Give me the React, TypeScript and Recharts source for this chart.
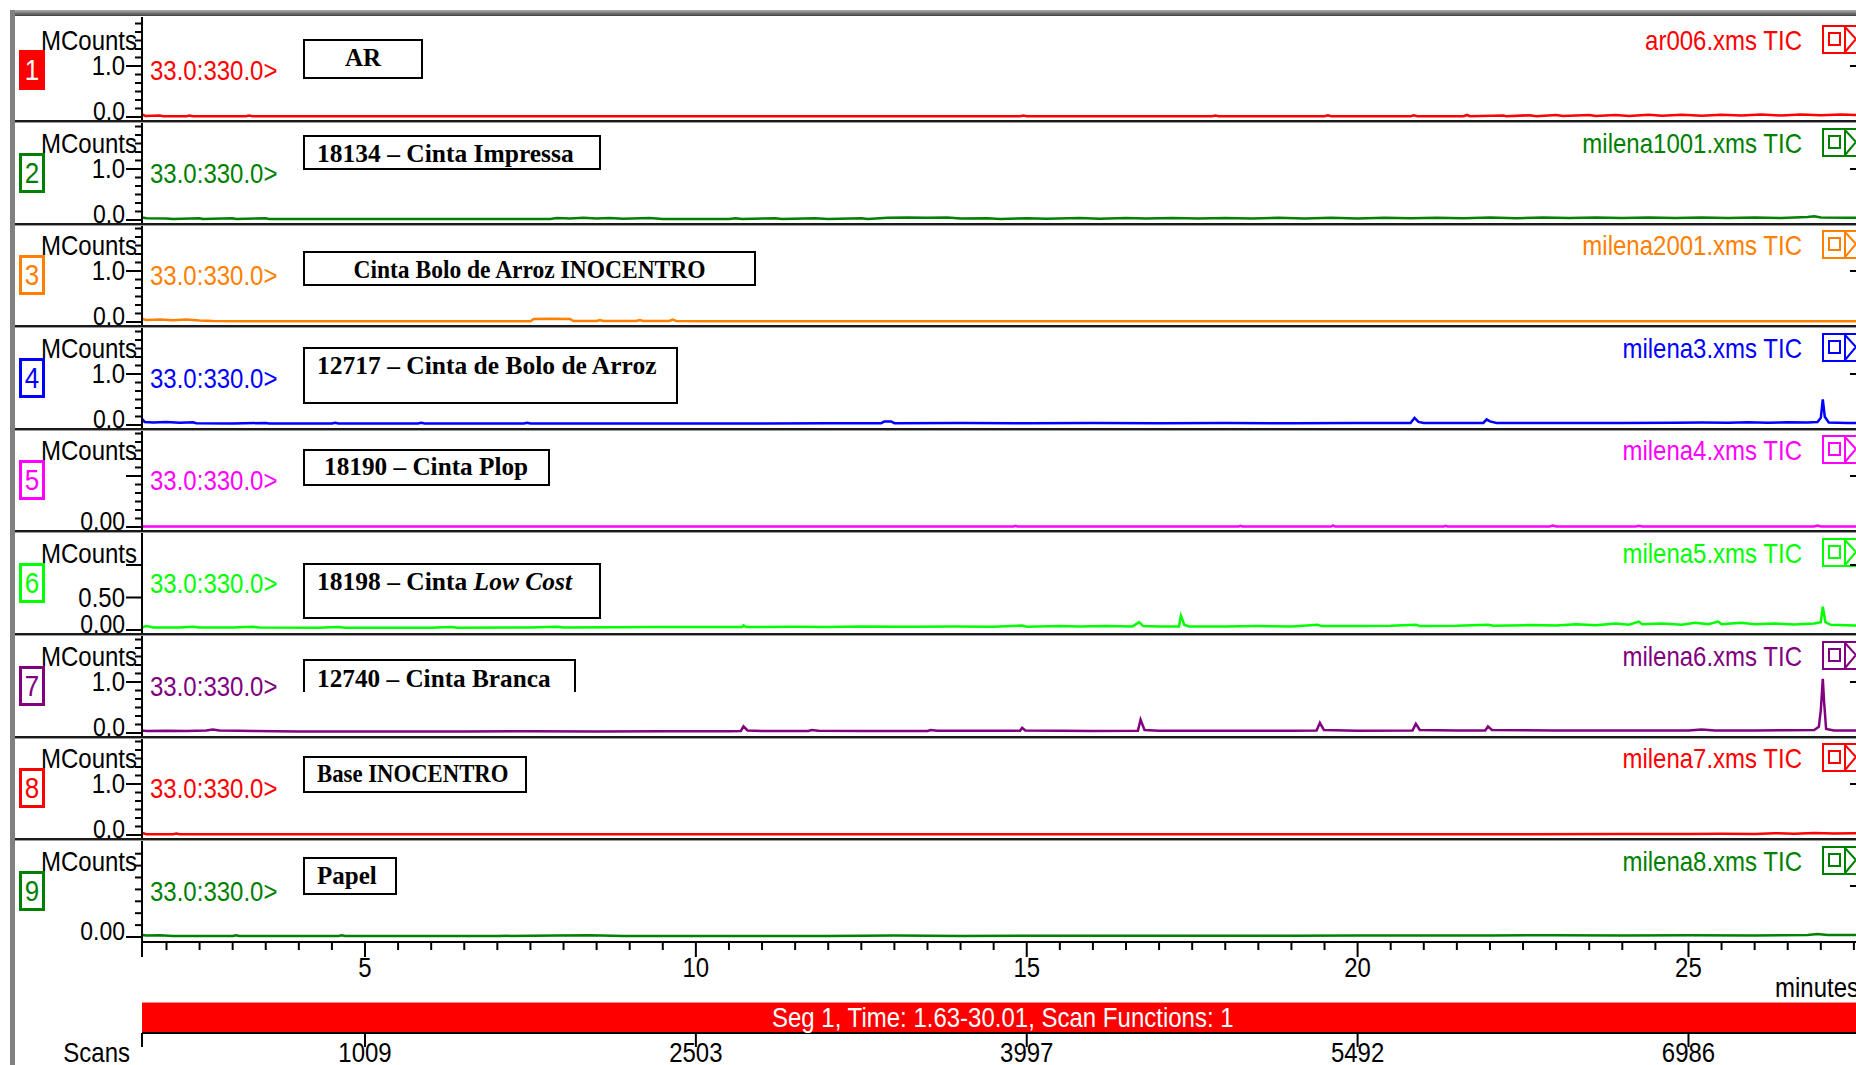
import React from 'react';
import { LineChart, Line, XAxis, YAxis, ReferenceArea } from 'recharts';

// ---------------- data ----------------
const TIME_START = 1.63;
const TIME_END = 30.01;

const fileNames = [
  'ar006.xms TIC', 'milena1001.xms TIC', 'milena2001.xms TIC', 'milena3.xms TIC', 'milena4.xms TIC',
  'milena5.xms TIC', 'milena6.xms TIC', 'milena7.xms TIC', 'milena8.xms TIC',
];
const sampleLabels = [
  'AR', '18134 – Cinta Impressa', 'Cinta Bolo de Arroz INOCENTRO', '12717 – Cinta de Bolo de Arroz',
  '18190 – Cinta Plop', '18198 – Cinta Low Cost', '12740 – Cinta Branca', 'Base INOCENTRO', 'Papel',
];
const italicParts = ['', '', '', '', '', 'Low Cost', '', '', ''];
const traceNumbers = ['1', '2', '3', '4', '5', '6', '7', '8', '9'];
const massRange = '33.0:330.0>';
const unitLabel = 'MCounts';
const segmentText = 'Seg 1, Time: 1.63-30.01, Scan Functions: 1';

const xTicks = [1.63, 2, 2.5, 3, 3.5, 4, 4.5, 5, 5.5, 6, 6.5, 7, 7.5, 8, 8.5, 9, 9.5, 10, 10.5, 11, 11.5, 12, 12.5, 13, 13.5, 14, 14.5, 15, 15.5, 16, 16.5, 17, 17.5, 18, 18.5, 19, 19.5, 20, 20.5, 21, 21.5, 22, 22.5, 23, 23.5, 24, 24.5, 25, 25.5, 26, 26.5, 27, 27.5, 28, 28.5, 29, 29.5, 30];
const xMajorTicks = [5, 10, 15, 20, 25, 30];
const xMajorLabels = ['5', '10', '15', '20', '25', '30'];
const scanTickTimes = [1.63, 5, 10, 15, 20, 25];
const scanLabels = ['', '1009', '2503', '3997', '5492', '6986'];

const yTicksUnit = [0, 0.167, 0.333, 0.5, 0.667, 0.833, 1, 1.167, 1.333, 1.5, 1.667, 1.833];
const yLabelsUnit = ['0.0', '', '', '', '', '', '1.0', '', '', '', '', ''];
const yLabelsZero = ['0.00', '', '', '', '', '', '', '', '', '', '', ''];
const yTicksHalf = [0, 0.5, 1];
const yLabelsHalf = ['0.00', '0.50', ''];
const yTicksPaper = [0, 0.233, 0.467, 0.7, 0.933, 1.167, 1.4, 1.633];
const yLabelsPaper = ['0.00', '', '', '', '', '', '', ''];

const s1: [number, number][] = [[1.63,0.05],[1.68,0.02],[1.9,0.03],[1.95,0.015],[2.3,0.015],[2.35,0.03],[2.4,0.015],[3.2,0.015],[3.25,0.03],[3.3,0.015],[8,0.015],[13.5,0.015],[14.9,0.015],[14.95,0.03],[15.0,0.015],[17.8,0.015],[17.85,0.03],[17.9,0.015],[19.5,0.015],[19.55,0.035],[19.6,0.015],[20.8,0.015],[20.85,0.035],[20.9,0.015],[21.6,0.015],[21.65,0.04],[21.7,0.015],[22.2,0.03],[22.25,0.015],[22.6,0.035],[22.7,0.015],[23.0,0.04],[23.1,0.02],[23.5,0.04],[23.6,0.02],[23.9,0.04],[24.1,0.02],[24.4,0.045],[24.6,0.025],[24.9,0.045],[25.2,0.025],[25.5,0.045],[25.8,0.03],[26.1,0.05],[26.4,0.03],[26.7,0.05],[27.0,0.035],[27.3,0.05],[27.6,0.035],[28.2,0.04],[29.0,0.035],[30.01,0.03]];
const s2: [number, number][] = [[1.63,0.05],[1.7,0.035],[2.0,0.03],[2.1,0.02],[2.5,0.035],[2.55,0.02],[3.0,0.035],[3.05,0.02],[3.5,0.035],[3.55,0.02],[5.0,0.02],[7.8,0.02],[7.9,0.04],[8.1,0.03],[8.3,0.045],[8.5,0.03],[8.7,0.04],[8.9,0.025],[9.3,0.04],[9.5,0.02],[10.5,0.02],[10.6,0.035],[10.7,0.02],[11.2,0.035],[11.3,0.02],[11.8,0.035],[12.0,0.02],[12.5,0.035],[12.6,0.02],[12.9,0.045],[13.2,0.05],[13.5,0.045],[13.8,0.05],[14.0,0.03],[14.4,0.035],[14.6,0.02],[15.0,0.035],[15.3,0.025],[15.8,0.04],[16.1,0.025],[16.5,0.04],[16.8,0.03],[17.2,0.04],[17.6,0.03],[18.0,0.04],[18.4,0.03],[18.8,0.045],[19.2,0.03],[19.6,0.045],[20.0,0.03],[20.4,0.045],[20.8,0.035],[21.2,0.045],[21.6,0.035],[22.0,0.05],[22.4,0.035],[22.8,0.05],[23.2,0.04],[23.6,0.05],[24.0,0.04],[24.4,0.05],[24.8,0.04],[25.2,0.05],[25.6,0.04],[26.0,0.05],[26.4,0.04],[26.8,0.06],[26.9,0.075],[27.0,0.05],[27.4,0.045],[28.0,0.045],[29.0,0.04],[30.01,0.04]];
const s3: [number, number][] = [[1.63,0.06],[1.7,0.04],[1.9,0.05],[2.1,0.035],[2.3,0.05],[2.5,0.03],[2.7,0.02],[3.2,0.015],[5.0,0.015],[7.5,0.015],[7.55,0.06],[7.8,0.065],[8.1,0.06],[8.15,0.02],[8.5,0.02],[8.55,0.04],[8.6,0.02],[9.1,0.02],[9.15,0.04],[9.2,0.02],[9.6,0.02],[9.65,0.045],[9.7,0.02],[10.2,0.015],[15.0,0.015],[20,0.015],[25,0.015],[30.01,0.015]];
const s4: [number, number][] = [[1.63,0.12],[1.67,0.06],[1.8,0.05],[2.0,0.06],[2.2,0.045],[2.4,0.055],[2.45,0.035],[3.0,0.03],[3.5,0.04],[3.55,0.03],[4.5,0.03],[4.55,0.045],[4.6,0.03],[5.8,0.03],[5.85,0.045],[5.9,0.03],[7.4,0.03],[7.45,0.045],[7.5,0.03],[9.0,0.03],[11.0,0.03],[12.0,0.035],[12.8,0.035],[12.85,0.07],[12.95,0.07],[13.0,0.035],[14.0,0.04],[15.0,0.035],[16.0,0.04],[17.0,0.035],[18.0,0.04],[19.0,0.035],[20.0,0.04],[20.8,0.04],[20.86,0.14],[20.92,0.06],[21.0,0.04],[21.9,0.04],[21.95,0.11],[22.0,0.07],[22.1,0.04],[23.0,0.04],[24.0,0.04],[24.8,0.045],[25.2,0.05],[25.6,0.045],[25.9,0.055],[26.2,0.045],[26.5,0.055],[26.8,0.05],[26.95,0.06],[27.0,0.14],[27.03,0.5],[27.06,0.16],[27.12,0.05],[27.4,0.04],[28.0,0.045],[29.0,0.04],[30.01,0.04]];
const s5: [number, number][] = [[1.63,0.01],[8,0.01],[14.8,0.01],[14.83,0.025],[14.86,0.01],[18.2,0.01],[18.23,0.025],[18.26,0.01],[19.6,0.01],[19.63,0.03],[19.66,0.01],[21.3,0.01],[21.33,0.025],[21.36,0.01],[22.9,0.01],[22.95,0.03],[23.0,0.01],[24.2,0.01],[24.25,0.025],[24.3,0.01],[26.9,0.01],[26.95,0.03],[27.0,0.01],[30.01,0.01]];
const s6: [number, number][] = [[1.63,0.04],[1.7,0.06],[1.8,0.04],[2.2,0.04],[2.4,0.05],[2.5,0.04],[3.0,0.04],[3.3,0.05],[3.4,0.04],[4.3,0.035],[4.6,0.045],[4.7,0.035],[6.0,0.035],[6.3,0.045],[6.4,0.035],[7.5,0.04],[7.9,0.05],[8.0,0.04],[9.5,0.045],[10.7,0.045],[10.72,0.07],[10.76,0.045],[11.5,0.05],[12.0,0.045],[12.5,0.055],[13.2,0.05],[13.9,0.055],[14.5,0.05],[14.93,0.07],[15.0,0.05],[15.5,0.06],[15.8,0.055],[16.2,0.06],[16.6,0.055],[16.7,0.12],[16.76,0.06],[17.0,0.055],[17.3,0.055],[17.33,0.22],[17.38,0.08],[17.45,0.055],[18.0,0.055],[18.5,0.06],[19.0,0.055],[19.4,0.08],[19.45,0.06],[20.0,0.06],[20.5,0.065],[20.88,0.08],[20.95,0.06],[21.5,0.065],[21.97,0.08],[22.05,0.065],[22.6,0.075],[23.0,0.07],[23.3,0.09],[23.6,0.075],[23.9,0.1],[24.1,0.08],[24.25,0.13],[24.3,0.09],[24.6,0.1],[24.9,0.08],[25.1,0.11],[25.3,0.09],[25.45,0.13],[25.5,0.09],[25.8,0.11],[26.0,0.09],[26.3,0.1],[26.6,0.085],[26.9,0.1],[27.0,0.12],[27.03,0.36],[27.07,0.12],[27.15,0.08],[27.5,0.07],[28.0,0.08],[29.0,0.075],[30.01,0.07]];
const s7: [number, number][] = [[1.63,0.05],[1.7,0.04],[2.0,0.045],[2.3,0.04],[2.6,0.05],[2.7,0.07],[2.8,0.05],[3.1,0.045],[3.3,0.04],[4.0,0.03],[5.0,0.03],[6.5,0.03],[7.5,0.035],[8.5,0.03],[9.5,0.035],[10.5,0.035],[10.68,0.04],[10.72,0.13],[10.78,0.05],[11.0,0.04],[11.7,0.04],[11.75,0.06],[11.85,0.045],[12.5,0.04],[13.5,0.04],[13.55,0.06],[13.65,0.045],[14.5,0.045],[14.9,0.045],[14.93,0.1],[14.98,0.05],[15.5,0.045],[16.0,0.04],[16.68,0.045],[16.72,0.26],[16.78,0.06],[17.0,0.045],[18.0,0.045],[19.0,0.045],[19.38,0.05],[19.43,0.2],[19.49,0.06],[20.0,0.045],[20.83,0.05],[20.88,0.18],[20.94,0.06],[21.5,0.05],[21.93,0.05],[21.97,0.13],[22.03,0.06],[23.0,0.05],[24.0,0.05],[25.0,0.05],[25.2,0.07],[25.4,0.05],[26.0,0.05],[26.5,0.055],[26.9,0.06],[26.97,0.12],[27.0,0.45],[27.03,1.06],[27.05,0.6],[27.08,0.08],[27.2,0.05],[28.0,0.05],[29.0,0.05],[30.01,0.05]];
const s8: [number, number][] = [[1.63,0.04],[1.7,0.015],[2.1,0.015],[2.15,0.03],[2.2,0.015],[6,0.015],[12,0.015],[18,0.015],[22,0.015],[24.0,0.02],[25.0,0.02],[25.5,0.025],[26.0,0.02],[26.3,0.035],[26.6,0.025],[26.9,0.04],[27.2,0.03],[27.5,0.035],[28.0,0.025],[30.01,0.02]];
const s9: [number, number][] = [[1.63,0.04],[1.7,0.03],[1.9,0.035],[2.1,0.02],[3.0,0.02],[3.05,0.035],[3.1,0.02],[4.6,0.02],[4.65,0.035],[4.7,0.02],[7.0,0.02],[7.9,0.03],[8.4,0.035],[8.9,0.02],[12.0,0.02],[13.0,0.03],[14.0,0.02],[16.0,0.025],[19.0,0.025],[20.0,0.03],[22.0,0.03],[23.0,0.035],[24.0,0.03],[25.0,0.035],[26.0,0.03],[26.8,0.04],[26.95,0.06],[27.1,0.04],[28.0,0.035],[30.01,0.03]];

const seriesList = [s1, s2, s3, s4, s5, s6, s7, s8, s9];
const yTicksList = [yTicksUnit, yTicksUnit, yTicksUnit, yTicksUnit, yTicksUnit, yTicksHalf, yTicksUnit, yTicksUnit, yTicksPaper];
const yLabelsList = [yLabelsUnit, yLabelsUnit, yLabelsUnit, yLabelsUnit, yLabelsZero, yLabelsHalf, yLabelsUnit, yLabelsUnit, yLabelsPaper];

// ---------------- styles / layout ----------------
const COLORS = ['#ff0000', '#008000', '#ff8000', '#0000ff', '#ff00ff', '#00ff00', '#800080', '#ff0000', '#008000'];
const PPU = [51, 51, 51, 51, 51, 65, 51, 51, 51];
const DIVIDERS = [121, 224, 326, 429, 531, 634, 737, 839, 942];
const PLOT_LEFT = 142;
const CHART_W = 2030;
const SANS = '"Liberation Sans", Arial, sans-serif';
const SERIF = '"Liberation Serif", "Times New Roman", serif';
const TALL = 1.12;
// label boxes: [left, top, right, bottom, textLeft (-1 = centred), textCenterY, openBottom]
const LABEL_BOXES: [number, number, number, number, number, number, boolean][] = [
  [303, 39, 423, 79, -1, 58, false],
  [303, 135, 601, 170, 317, 154, false],
  [303, 251, 756, 286, -1, 270, false],
  [303, 347, 678, 404, 317, 366, false],
  [303, 449, 550, 486, 324, 467, false],
  [303, 563, 601, 619, 317, 582, false],
  [303, 659, 576, 692, 317, 679, true],
  [303, 756, 527, 793, 317, 774, false],
  [303, 857, 397, 895, 317, 876, false],
];
const LABEL_SCALE_X = [1, 1.02, 0.94, 1.02, 1.01, 1.02, 1.01, 0.91, 1];

const svgText = (x: number, y: number, s: string, anchor: 'start' | 'middle' | 'end', size = 24) => (
  <g transform={`translate(${x},${y}) scale(1,${TALL})`}>
    <text x={0} y={0} textAnchor={anchor} dominantBaseline="central" fontSize={size} fontFamily={SANS} fill="#000">{s}</text>
  </g>
);

const makeYTick = (labels: string[]) => (props: any) => {
  const { x, y, index } = props;
  const lab = labels[index] || '';
  const major = lab !== '' || props.payload?.value === 1;
  const len = major ? 16 : 7;
  return (
    <g>
      <line x1={x - len} y1={y} x2={x} y2={y} stroke="#000" strokeWidth={2} />
      {lab && svgText(x - len - 1, index === 0 ? y - 6 : y, lab, 'end', index === 0 ? 23 : 24)}
    </g>
  );
};

const renderXTick = (props: any) => {
  const { x, y, payload } = props;
  const v = payload.value;
  const mi = xMajorTicks.indexOf(v);
  const major = mi >= 0 || v === TIME_START;
  const len = major ? 15 : 8;
  return (
    <g>
      <line x1={x} y1={y} x2={x} y2={y + len} stroke="#000" strokeWidth={2} />
      {mi >= 0 && svgText(x, y + 26, xMajorLabels[mi], 'middle')}
    </g>
  );
};

const renderScanTick = (props: any) => {
  const { x, y, index } = props;
  const lab = scanLabels[index] || '';
  return (
    <g>
      <line x1={x} y1={y} x2={x} y2={y + 14} stroke="#000" strokeWidth={2} />
      {lab && svgText(x, y + 20, lab, 'middle')}
    </g>
  );
};

function Panel({ i }: { i: number }) {
  const bottom = DIVIDERS[i];
  const top = i === 0 ? 17 : DIVIDERS[i - 1] + 2;
  const isLast = i === 8;
  const ppu = PPU[i];
  const zeroGap = isLast ? 5 : 4;
  const plotH = bottom - top;
  const lo = -zeroGap / ppu;
  const hi = (plotH - zeroGap) / ppu;
  const data = seriesList[i].map(([t, v]) => ({ t, v }));
  const xAxisH = isLast ? 60 : 0;
  return (
    <div style={{ position: 'absolute', left: 0, top }}>
      <LineChart width={CHART_W} height={plotH + xAxisH} data={data} margin={{ top: 0, right: 10, bottom: 0, left: 0 }}>
        <XAxis
          type="number" dataKey="t" domain={[TIME_START, TIME_END]} allowDataOverflow hide={!isLast}
          height={isLast ? 60 : 0} ticks={xTicks} interval={0} tickSize={0} tickMargin={0} tickLine={false}
          axisLine={{ stroke: '#000', strokeWidth: 2 }} tick={renderXTick}
        />
        <YAxis
          type="number" domain={[lo, hi]} allowDataOverflow width={PLOT_LEFT} ticks={yTicksList[i]} interval={0}
          tickSize={0} tickMargin={0} tickLine={false} axisLine={{ stroke: '#000', strokeWidth: 2 }}
          tick={makeYTick(yLabelsList[i])}
        />
        <Line type="linear" dataKey="v" stroke={COLORS[i]} strokeWidth={2.5} dot={false} isAnimationActive={false} />
      </LineChart>
    </div>
  );
}

function ScanAxis() {
  const frame = [{ t: TIME_START, v: 0 }, { t: TIME_END, v: 0 }];
  return (
    <div style={{ position: 'absolute', left: 0, top: 1002 }}>
      <LineChart width={CHART_W} height={31 + 40} data={frame} margin={{ top: 0, right: 10, bottom: 0, left: PLOT_LEFT }}>
        <XAxis
          type="number" dataKey="t" domain={[TIME_START, TIME_END]} allowDataOverflow height={40}
          ticks={scanTickTimes} interval={0} tickSize={0} tickMargin={0} tickLine={false}
          axisLine={{ stroke: '#000', strokeWidth: 2 }} tick={renderScanTick}
        />
        <YAxis hide type="number" domain={[0, 1]} />
        <ReferenceArea x1={TIME_START} x2={TIME_END} y1={0} y2={1} fill="#ff0000" fillOpacity={1} stroke="none" ifOverflow="visible" />
        <Line dataKey="v" stroke="none" dot={false} isAnimationActive={false} />
      </LineChart>
    </div>
  );
}

const sansStyle: React.CSSProperties = {
  position: 'absolute', height: 28, lineHeight: '28px', fontSize: 24, fontFamily: SANS, whiteSpace: 'pre',
  transform: `scaleY(${TALL})`,
};

function txt(left: number, cy: number, content: React.ReactNode, style: React.CSSProperties = {}) {
  return <div style={{ ...sansStyle, left, top: cy - 14, ...style }}>{content}</div>;
}
function txtRight(right: number, cy: number, content: React.ReactNode, style: React.CSSProperties = {}) {
  return <div style={{ ...sansStyle, right: 1856 - right, top: cy - 14, ...style }}>{content}</div>;
}

function renderLabel(i: number) {
  const text = sampleLabels[i];
  const it = italicParts[i];
  if (it && text.includes(it)) {
    const idx = text.indexOf(it);
    return (
      <>
        {text.slice(0, idx)}
        <span style={{ fontStyle: 'italic' }}>{it}</span>
        {text.slice(idx + it.length)}
      </>
    );
  }
  return text;
}

function Overlays() {
  const items: React.ReactNode[] = [];
  for (let i = 0; i < 9; i++) {
    const d = DIVIDERS[i];
    const c = COLORS[i];
    if (i < 8) {
      items.push(<div key={'dv' + i} style={{ position: 'absolute', left: 12, top: d - 1, width: 1900, height: 2, background: '#1a1a1a' }} />);
      items.push(<div key={'dg' + i} style={{ position: 'absolute', left: 12, top: d + 1, width: 1900, height: 1, background: '#9a9a9a' }} />);
    }
    const filled = i === 0;
    items.push(
      <div key={'nb' + i} style={{
        position: 'absolute', left: 19, top: d - 71, width: 26, height: 40, boxSizing: 'border-box',
        border: `3px solid ${c}`, background: filled ? c : '#fff', color: filled ? '#fff' : c,
        fontFamily: SANS, fontSize: 26, lineHeight: '34px', textAlign: 'center',
      }}><span style={{ display: 'inline-block', transform: 'scaleY(1.15)' }}>{traceNumbers[i]}</span></div>
    );
    items.push(<React.Fragment key={'mc' + i}>{txtRight(137, d - 80, unitLabel, { color: '#000' })}</React.Fragment>);
    items.push(<React.Fragment key={'mr' + i}>{txt(150, d - 50, massRange, { color: c })}</React.Fragment>);
    items.push(<React.Fragment key={'fn' + i}>{txtRight(1802, d - 80, fileNames[i], { color: c })}</React.Fragment>);
    items.push(
      <svg key={'ic' + i} style={{ position: 'absolute', left: 1822, top: d - 96 }} width={40} height={30}>
        <rect x={1} y={1} width={50} height={27} fill="#fff" stroke={c} strokeWidth={2} />
        <rect x={7} y={8} width={11} height={12} fill="none" stroke={c} strokeWidth={2} />
        <line x1={23} y1={1} x2={23} y2={28} stroke={c} strokeWidth={2} />
        <polyline points="23,2 34,14 23,27" fill="none" stroke={c} strokeWidth={2} />
      </svg>
    );
    items.push(<div key={'rt' + i} style={{ position: 'absolute', left: 1850, top: d - (i === 8 ? 5 : 4) - PPU[i] - 1, width: 6, height: 2, background: '#000' }} />);
    const [bl, bt, br, bb, tl, tcy, open] = LABEL_BOXES[i];
    items.push(
      <div key={'lb' + i} style={{
        position: 'absolute', left: bl, top: bt, width: br - bl, height: bb - bt, boxSizing: 'border-box',
        border: '2px solid #000', borderBottom: open ? 'none' : '2px solid #000', background: '#fff',
      }} />
    );
    items.push(
      <div key={'lt' + i} style={{
        position: 'absolute', left: tl < 0 ? bl : tl, width: tl < 0 ? br - bl : undefined, textAlign: tl < 0 ? 'center' : 'left',
        top: tcy - 15, height: 30, lineHeight: '30px', fontFamily: SERIF, fontWeight: 'bold', fontSize: 25, color: '#000', whiteSpace: 'pre',
        transform: `scale(${LABEL_SCALE_X[i]}, 1.05)`, transformOrigin: tl < 0 ? 'center center' : 'left center',
      }}>{renderLabel(i)}</div>
    );
  }
  return <>{items}</>;
}

export default function App() {
  return (
    <div style={{ position: 'fixed', left: 0, top: 0, width: 1856, height: 1065, overflow: 'hidden', background: '#fff' }}>
      {Array.from({ length: 9 }, (_, i) => <Panel key={i} i={i} />)}
      <ScanAxis />
      <div style={{ position: 'absolute', left: PLOT_LEFT, top: 1002, width: 1900, height: 1, background: '#ff9090' }} />
      <Overlays />
      <div style={{ position: 'absolute', left: 10, top: 10, width: 1860, height: 6, background: 'linear-gradient(#b0b0b0, #404040)' }} />
      <div style={{ position: 'absolute', left: 10, top: 10, width: 5, height: 1060, background: '#808080' }} />
      {txt(1775, 988, 'minutes', { color: '#000' })}
      {txt(772, 1018, segmentText, { color: '#fff' })}
      {txtRight(130, 1053, 'Scans', { color: '#000' })}
    </div>
  );
}
